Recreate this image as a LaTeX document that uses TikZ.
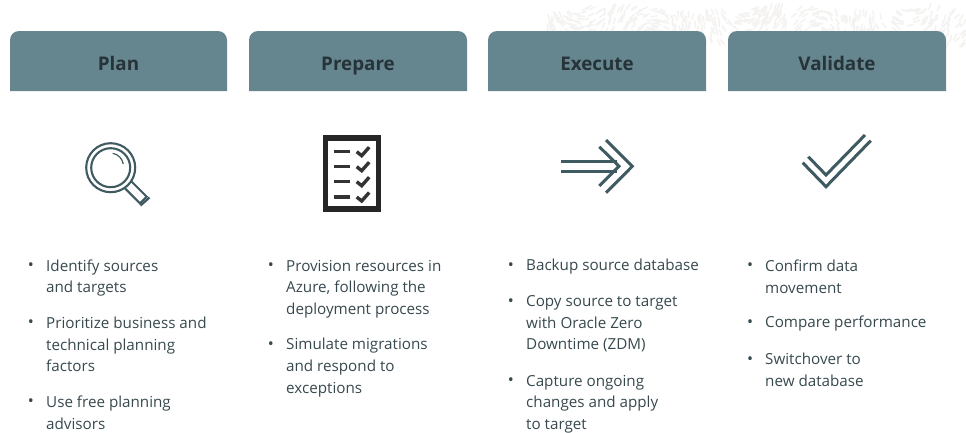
\documentclass[tikz,border=0pt]{standalone}
\usepackage{fontspec}
\setmainfont{Open Sans}
\usetikzlibrary{positioning}
\definecolor{headfill}{HTML}{66868F}
\definecolor{headtext}{HTML}{263338}
\definecolor{bodytext}{HTML}{37494E}
\definecolor{icon}{HTML}{3F5A60}
\definecolor{speck}{HTML}{F4F3F1}
\begin{document}
\begin{tikzpicture}[x=1pt,y=-1pt,
    head/.style={fill=headfill},
    headlabel/.style={anchor=base, font=\fontsize{18.8}{20}\selectfont\bfseries, text=headtext},
    item/.style={anchor=west, align=left, inner sep=0pt, text=bodytext, font=\fontsize{15.2}{21.6}\selectfont},
    dot/.style={inner sep=0pt, text=bodytext, font=\fontsize{16}{16}\selectfont},
    ic/.style={draw=icon, line width=3pt}]
    \useasboundingbox (0,0) rectangle (966,432);
    % pale texture behind the headers
    \pgfmathsetseed{11}
    \foreach \i in {1,...,560} {
        \pgfmathsetmacro{\px}{545+rnd*421}
        \pgfmathsetmacro{\py}{9+rnd*(26+(\px-545)*0.03)}
        \pgfmathsetmacro{\pa}{20*round(sin(\px*2.2)*4)+rnd*30}
        \draw[speck, line width=1.6pt, line cap=round] (\px,\py) -- ++(\pa:6);
    }
    % headers
    \foreach \x/\w/\name/\txt in {10/217/plan/Plan,249/218/prepare/Prepare,488/218/execute/Execute,728/218/validate/Validate} {
        \path[head] (\x,91) -- (\x,60) [rounded corners=9pt] -- (\x,31) -- (\x+\w,31) -- (\x+\w,60) [sharp corners] -- (\x+\w,91) -- cycle;
        \node[headlabel] (\name) at (\x+\w/2,70) {\txt};
    }
    % magnifier
    \draw[icon, line width=2.1pt] (110.7,167.7) circle (24.5);
    \draw[icon, line width=2.1pt] (110.7,167.7) circle (19.5);
    \draw[icon, line width=1.2pt] (112.7,153.3) arc (-80:-10:13);
    \draw[icon, line width=2.1pt] (125,188.3) -- (140,203.3) -- (146.7,196.7) -- (131.7,181.7);
    \draw[icon, line width=2.2pt] (140.5,205.5) -- (149.5,197.5);
    % checklist
    \draw[draw=black!85, line width=5.4pt] (325.2,138) rectangle (378.5,209);
    \foreach \y in {151.7,166.7,181.7,197} {
        \draw[black!80, line width=3.4pt] (334.3,\y) -- (350,\y);
        \draw[black!80, line width=3.4pt] (356.7,\y) -- ++(5,4) -- ++(7.5,-8.5);
    }
    % arrow
    \draw[ic] (561,161.7) -- (617,161.7);
    \draw[ic] (561,171) -- (617,171);
    \draw[ic] (599.3,146.7) -- (619,166.3) -- (599.3,186);
    \draw[ic] (606,140) -- (632.3,166.3) -- (606,192.7);
    % tick
    \draw[ic] (808.3,156.7) -- (826,175) -- (865,135);
    \draw[ic] (802.7,162.7) -- (826,186.7) -- (870.7,140.7);
    % lists
    \foreach \x/\y/\top/\txt [count=\i] in {
        46/278/265/{Identify sources\\and targets},
        46/344.5/322/{Prioritize business and\\technical planning\\factors},
        46/412.5/401/{Use free planning\\advisors},
        286/289/265/{Provision resources in\\Azure, following the\\deployment process},
        286/367.5/344/{Simulate migrations\\and respond to\\exceptions},
        526/267/265/{Backup source database},
        526/324/301/{Copy source to target\\with Oracle Zero\\Downtime (ZDM)},
        526/404/380/{Capture ongoing\\changes and apply\\to target},
        765/276.5/265/{Confirm data\\movement},
        765/324/322/{Compare performance},
        765/370/359/{Switchover to\\new database}} {
        \node[item] (item\i) at (\x,\y) {\txt};
        \node[dot] (dot\i) at (\x-15,\top+2) {•};
    }
\end{tikzpicture}
\end{document}
